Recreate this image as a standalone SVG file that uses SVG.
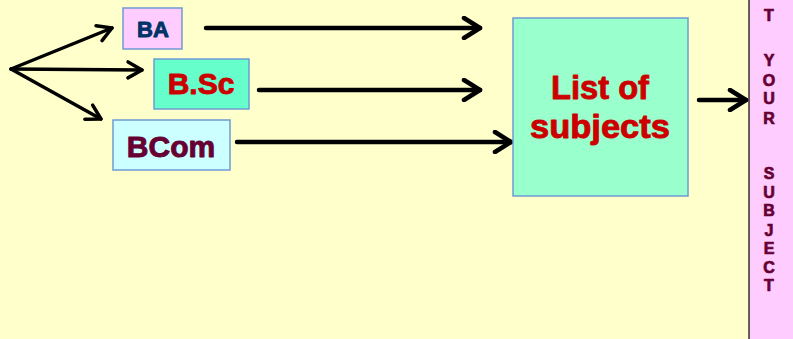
<svg xmlns="http://www.w3.org/2000/svg" width="793" height="339" viewBox="0 0 793 339">
<defs>
<style>
.box{stroke:#6F9BD2;stroke-width:1.5}
.t{font-family:"Liberation Sans",Arial,sans-serif;font-weight:bold;text-anchor:middle;stroke-width:0.9;stroke-linejoin:round}
.v{font-family:"Liberation Sans",Arial,sans-serif;font-weight:bold;font-size:16px;fill:#660033;stroke:#660033;stroke-width:0.7;text-anchor:middle}
.c{stroke:#000;fill:none;stroke-linecap:round}
</style>
<marker id="ah" markerUnits="userSpaceOnUse" viewBox="-20 -12 24 24" refX="0" refY="0" markerWidth="24" markerHeight="24" orient="auto">
<path d="M-16,-10 L0,0 L-16,10" fill="none" stroke="#000" stroke-width="4.5" stroke-linecap="round" stroke-linejoin="round"/>
</marker>
<marker id="ah2" markerUnits="userSpaceOnUse" viewBox="-20 -12 24 24" refX="0" refY="0" markerWidth="24" markerHeight="24" orient="auto">
<path d="M-14,-8 L0,0 L-14,8" fill="none" stroke="#000" stroke-width="3.5" stroke-linecap="round" stroke-linejoin="round"/>
</marker>
</defs>
<rect x="0" y="0" width="793" height="339" fill="#FFFFCC"/>
<g id="strip">
<rect x="749" y="-2" width="50" height="345" fill="#FFCCFF" stroke="#000" stroke-width="1.2"/>
<text class="v" x="769" y="21">T</text>
<text class="v" x="769" y="66">Y</text>
<text class="v" x="769" y="86">O</text>
<text class="v" x="769" y="104">U</text>
<text class="v" x="769" y="124">R</text>
<text class="v" x="769" y="179">S</text>
<text class="v" x="769" y="198">U</text>
<text class="v" x="769" y="216">B</text>
<text class="v" x="769" y="236">J</text>
<text class="v" x="769" y="254">E</text>
<text class="v" x="769" y="273">C</text>
<text class="v" x="769" y="291">T</text>
</g>
<g id="connectors">
<line class="c" x1="11" y1="69" x2="112" y2="28" stroke-width="3.5" marker-end="url(#ah2)"/>
<line class="c" x1="11" y1="69" x2="142" y2="70" stroke-width="3.5" marker-end="url(#ah2)"/>
<line class="c" x1="11" y1="69" x2="101" y2="119" stroke-width="3.5" marker-end="url(#ah2)"/>
<line class="c" x1="206" y1="28" x2="480" y2="28" stroke-width="4.5" marker-end="url(#ah)"/>
<line class="c" x1="259" y1="90" x2="480" y2="90" stroke-width="4.5" marker-end="url(#ah)"/>
<line class="c" x1="237" y1="142" x2="511" y2="142" stroke-width="4.5" marker-end="url(#ah)"/>
<line class="c" x1="699" y1="100" x2="746" y2="100" stroke-width="4.5" marker-end="url(#ah)"/>
</g>
<g id="ba">
<rect class="box" x="123" y="8" width="59" height="41" fill="#FFCCFF"/>
<text class="t" x="153" y="37" font-size="22" fill="#003366" stroke="#003366">BA</text>
</g>
<g id="bsc">
<rect class="box" x="154" y="59" width="95" height="50" fill="#66FFCC"/>
<text class="t" x="201" y="94" font-size="30" fill="#CC0000" stroke="#CC0000">B.Sc</text>
</g>
<g id="bcom">
<rect class="box" x="113" y="120" width="117" height="50" fill="#CCFFFF"/>
<text class="t" x="171" y="157" font-size="30" fill="#660033" stroke="#660033">BCom</text>
</g>
<g id="list">
<rect class="box" x="513" y="18" width="175" height="178" fill="#99FFCC"/>
<text class="t" x="600" y="99" font-size="34" fill="#CC0000" stroke="#CC0000" textLength="98" lengthAdjust="spacingAndGlyphs">List of</text>
<text class="t" x="600" y="138" font-size="34" fill="#CC0000" stroke="#CC0000" textLength="140" lengthAdjust="spacingAndGlyphs">subjects</text>
</g>
</svg>
